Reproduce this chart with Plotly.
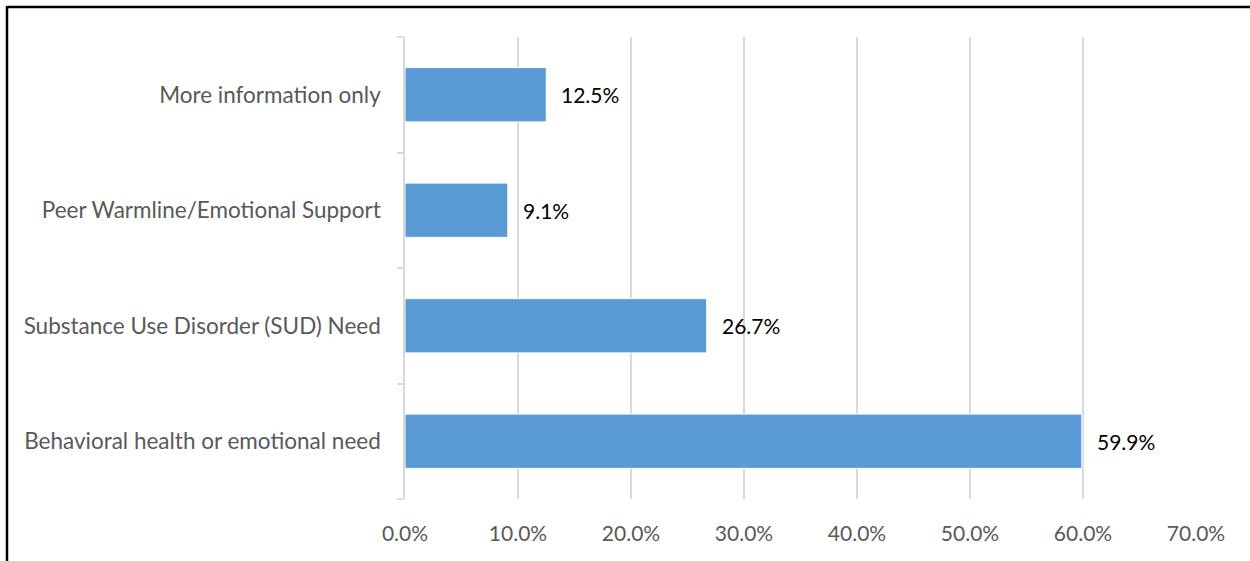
import plotly.graph_objects as go

categories = ["Behavioral health or emotional need",
              "Substance Use Disorder (SUD) Need",
              "Peer Warmline/Emotional Support",
              "More information only"]
values = [59.9, 26.7, 9.1, 12.5]
tick_vals = [0, 10, 20, 30, 40, 50, 60, 70]
tick_text = ["0.0%", "10.0%", "20.0%", "30.0%", "40.0%", "50.0%", "60.0%", "70.0%"]

FONT = "Lato, Open Sans, sans-serif"

fig = go.Figure()
fig.add_trace(go.Bar(
    y=categories, x=values, orientation="h",
    marker=dict(color="#5B9BD5", line=dict(color="white", width=1)),
    hoverinfo="skip",
))

for c, v in zip(categories, values):
    fig.add_annotation(x=v, y=c, text=f"{v:.1f}%", showarrow=False,
                       xanchor="left", xshift=13,
                       font=dict(family=FONT, size=21, color="black"))

fig.update_layout(
    width=1250, height=561,
    margin=dict(l=405, r=54, t=37, b=62),
    paper_bgcolor="white", plot_bgcolor="white",
    bargap=0.53,
    showlegend=False,
    font=dict(family=FONT, size=21, color="#595959"),
    xaxis=dict(range=[0, 70], tickvals=tick_vals, ticktext=tick_text,
               showgrid=True, gridcolor="#d9d9d9", gridwidth=1.5,
               zeroline=False, showline=False, ticks="",
               tickfont=dict(size=21),
               ticklabelstandoff=20, fixedrange=True),
    yaxis=dict(showline=True, linecolor="#d9d9d9", linewidth=1.5,
               ticks="outside", ticklen=6, tickcolor="#d9d9d9", tickwidth=1.5,
               tickson="boundaries", showgrid=False,
               tickfont=dict(size=22.5),
               ticklabelstandoff=18, fixedrange=True),
    shapes=[
        dict(type="line", xref="paper", yref="paper", x0=-398/791, x1=1.1,
             y0=1 + 30/462, y1=1 + 30/462, line=dict(color="black", width=2.5)),
        dict(type="line", xref="paper", yref="paper", x0=-398/791, x1=-398/791,
             y0=1 + 31/462, y1=-0.2, line=dict(color="black", width=2.5)),
    ],
)

fig.write_html("out.html")
